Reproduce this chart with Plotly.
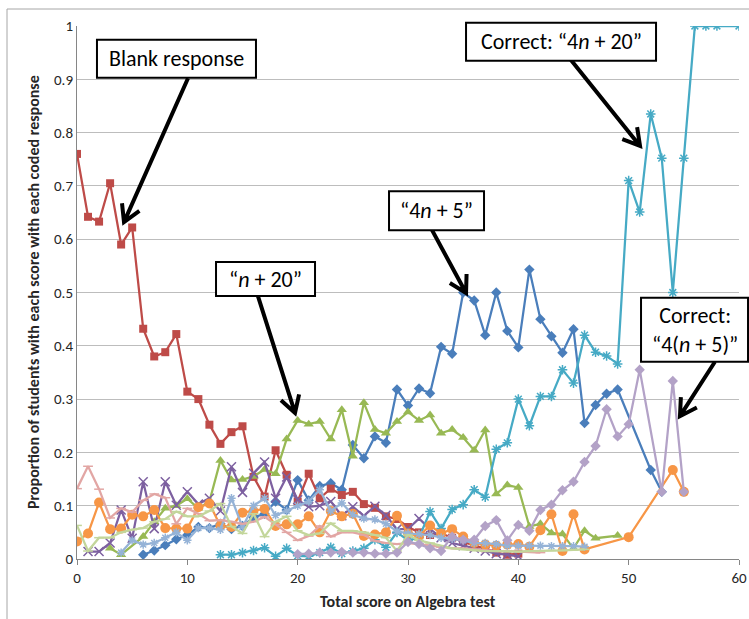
import math
import plotly.graph_objects as go

# ---------------------------------------------------------------- data
blank_x = list(range(0, 41))
blank_y = [0.76, 0.642, 0.633, 0.705, 0.59, 0.622, 0.432, 0.38, 0.388, 0.422,
           0.314, 0.30, 0.252, 0.216, 0.238, 0.249, 0.154, 0.117, 0.204, 0.158,
           0.108, 0.160, 0.114, 0.132, 0.12, 0.126, 0.103, 0.096, 0.08, 0.075,
           0.06, 0.05, 0.045, 0.048, 0.04, 0.032, 0.025, 0.02, 0.012, 0.008, 0.01]

r4n5_x = list(range(6, 50)) + [52, 53]
r4n5_y = [0.008, 0.016, 0.026, 0.037, 0.045, 0.06, 0.058, 0.066, 0.056, 0.062,
          0.078, 0.085, 0.108, 0.092, 0.148, 0.11, 0.137, 0.142, 0.13, 0.214,
          0.189, 0.23, 0.218, 0.318, 0.288, 0.32, 0.311, 0.398, 0.385, 0.50,
          0.485, 0.42, 0.50, 0.428, 0.397, 0.543, 0.45, 0.418, 0.387, 0.431,
          0.255, 0.289, 0.31, 0.318, 0.167, 0.126]

rn20_x = [3, 4] + list(range(6, 48)) + [49]
rn20_y = [0.02, 0.008, 0.042, 0.07, 0.095, 0.1, 0.113, 0.095, 0.108, 0.185,
          0.148, 0.149, 0.155, 0.168, 0.16, 0.225, 0.26, 0.253, 0.258, 0.225,
          0.28, 0.193, 0.293, 0.243, 0.236, 0.258, 0.276, 0.26, 0.27, 0.236,
          0.243, 0.228, 0.204, 0.242, 0.122, 0.139, 0.134, 0.061, 0.066, 0.049,
          0.047, 0.02, 0.053, 0.039, 0.044]

purple_x = list(range(1, 41))
purple_y = [0.014, 0.014, 0.03, 0.092, 0.039, 0.145, 0.057, 0.145, 0.101, 0.126,
            0.103, 0.114, 0.09, 0.173, 0.125, 0.161, 0.182, 0.114, 0.154, 0.111,
            0.098, 0.1, 0.108, 0.081, 0.098, 0.081, 0.099, 0.082, 0.056, 0.056,
            0.076, 0.056, 0.04, 0.03, 0.025, 0.02, 0.015, 0.01, 0.008, 0.005]

r4n20_x = list(range(13, 59)) + [60]
r4n20_y = [0.008, 0.008, 0.012, 0.016, 0.021, 0.005, 0.02, 0.006, 0.005, 0.012,
           0.022, 0.01, 0.015, 0.02, 0.036, 0.022, 0.05, 0.035, 0.04, 0.089,
           0.057, 0.093, 0.102, 0.13, 0.116, 0.206, 0.218, 0.30, 0.25, 0.305,
           0.305, 0.355, 0.33, 0.42, 0.388, 0.381, 0.366, 0.71, 0.651, 0.835,
           0.752, 0.5, 0.752, 1.0, 1.0, 1.0, 1.0]

orange_x = list(range(0, 47)) + [50, 54, 55]
orange_y = [0.033, 0.048, 0.106, 0.056, 0.057, 0.083, 0.08, 0.092, 0.058, 0.057,
            0.057, 0.097, 0.104, 0.062, 0.06, 0.087, 0.09, 0.094, 0.062, 0.065,
            0.065, 0.08, 0.05, 0.09, 0.08, 0.085, 0.043, 0.046, 0.05, 0.081,
            0.048, 0.043, 0.063, 0.048, 0.056, 0.042, 0.03, 0.027, 0.025, 0.027,
            0.028, 0.023, 0.054, 0.084, 0.015, 0.084, 0.018, 0.041, 0.167, 0.126]

ltblue_x = list(range(4, 47))
ltblue_y = [0.012, 0.035, 0.027, 0.03, 0.04, 0.05, 0.035, 0.058, 0.058, 0.055,
            0.114, 0.06, 0.1, 0.114, 0.082, 0.09, 0.1, 0.108, 0.13, 0.09,
            0.105, 0.083, 0.076, 0.074, 0.066, 0.052, 0.048, 0.047, 0.045, 0.04,
            0.038, 0.035, 0.03, 0.03, 0.028, 0.025, 0.025, 0.025, 0.025, 0.024,
            0.024, 0.024, 0.023]

pink_x = list(range(0, 43))
pink_y = [0.132, 0.174, 0.131, 0.077, 0.095, 0.088, 0.11, 0.122, 0.115, 0.066,
          0.095, 0.085, 0.072, 0.073, 0.07, 0.066, 0.07, 0.079, 0.065, 0.05,
          0.035, 0.043, 0.062, 0.042, 0.05, 0.05, 0.045, 0.034, 0.03, 0.028,
          0.03, 0.028, 0.025, 0.022, 0.02, 0.02, 0.018, 0.016, 0.015, 0.015,
          0.014, 0.013, 0.012]

ltgreen_x = list(range(0, 47))
ltgreen_y = [0.063, 0.015, 0.04, 0.04, 0.05, 0.055, 0.058, 0.07, 0.075, 0.089,
             0.08, 0.08, 0.09, 0.104, 0.061, 0.048, 0.085, 0.042, 0.07, 0.08,
             0.053, 0.045, 0.048, 0.067, 0.053, 0.053, 0.05, 0.045, 0.04, 0.015,
             0.045, 0.035, 0.03, 0.025, 0.02, 0.018, 0.016, 0.015, 0.015, 0.014,
             0.014, 0.015, 0.015, 0.016, 0.016, 0.017, 0.018]

r4n5c_x = list(range(20, 52)) + [53, 54, 55]
r4n5c_y = [0.009, 0.01, 0.012, 0.012, 0.013, 0.012, 0.012, 0.01, 0.01, 0.012,
           0.032, 0.028, 0.02, 0.015, 0.042, 0.036, 0.036, 0.062, 0.073, 0.035,
           0.064, 0.053, 0.092, 0.102, 0.129, 0.145, 0.182, 0.212, 0.281, 0.23,
           0.253, 0.355, 0.126, 0.334, 0.126]

x_ticks = [0, 10, 20, 30, 40, 50, 60]
y_ticks = [0, 0.1, 0.2, 0.3, 0.4, 0.5, 0.6, 0.7, 0.8, 0.9, 1]
y_tick_text = ["0", "0.1", "0.2", "0.3", "0.4", "0.5", "0.6", "0.7", "0.8", "0.9", "1"]

# ---------------------------------------------------------------- layout geometry
W, H = 749, 619
MARGIN = dict(l=77, r=10, t=26, b=60)
PW = W - MARGIN["l"] - MARGIN["r"]
PH = H - MARGIN["t"] - MARGIN["b"]
XR = (0, 60)
YR = (0, 1)
FONT = "Calibri, Carlito, Lato, sans-serif"
TXT = "#262626"


def to_px(x, y):
    return (MARGIN["l"] + (x - XR[0]) / (XR[1] - XR[0]) * PW,
            MARGIN["t"] + (YR[1] - y) / (YR[1] - YR[0]) * PH)


def to_data(px, py):
    return (XR[0] + (px - MARGIN["l"]) / PW * (XR[1] - XR[0]),
            YR[1] - (py - MARGIN["t"]) / PH * (YR[1] - YR[0]))


def px_to_paper(px, py):
    return (px - MARGIN["l"]) / PW, (MARGIN["t"] + PH - py) / PH


fig = go.Figure()

series = [
    (r4n5_x, r4n5_y, "#4A7EBB", "diamond", 8, "“4n + 5”"),
    (blank_x, blank_y, "#BE4B48", "square", 8, "Blank"),
    (rn20_x, rn20_y, "#98B954", "triangle-up", 9, "“n + 20”"),
    (purple_x, purple_y, "#7D60A0", "x-thin-open", 9, "other 1"),
    (r4n20_x, r4n20_y, "#46AAC5", "asterisk-open", 8, "“4n + 20”"),
    (orange_x, orange_y, "#F79646", "circle", 10, "other 2"),
    (ltblue_x, ltblue_y, "#95B3D7", "asterisk-open", 7, "other 3"),
    (pink_x, pink_y, "#E2A6A4", "line-ew-open", 7, "other 4"),
    (ltgreen_x, ltgreen_y, "#C3D69B", "line-ew-open", 7, "other 5"),
    (r4n5c_x, r4n5c_y, "#B3A2C7", "diamond", 8, "“4(n + 5)”"),
]

for xs, ys, col, sym, size, name in series:
    open_marker = sym.endswith("open")
    fig.add_trace(go.Scatter(
        x=xs, y=ys, mode="lines+markers", name=name,
        line=dict(color=col, width=2.25),
        marker=dict(symbol=sym, size=size, color=col,
                    line=dict(color=col, width=1.5 if open_marker else 0)),
        showlegend=False,
    ))

shapes = []
annotations = []

# outer chart frame
fx0, fy0 = px_to_paper(7, 9)
fx1, fy1 = px_to_paper(W + 5, H + 5)
shapes.append(dict(type="rect", xref="paper", yref="paper",
                   x0=fx0, x1=fx1, y0=fy1, y1=fy0,
                   line=dict(color="#A6A6A6", width=1), layer="below"))

# arrows: (tail, tip) in data units
arrows = [
    ((10.06, 0.902), (4.26, 0.632)),
    ((16.40, 0.493), (19.76, 0.274)),
    ((32.18, 0.617), (35.26, 0.499)),
    ((44.77, 0.936), (51.03, 0.775)),
    ((57.82, 0.370), (54.65, 0.268)),
]
HEAD_LEN, HEAD_ANG = 19, math.radians(30)
for (tx, ty), (hx, hy) in arrows:
    tpx, tpy = to_px(tx, ty)
    hpx, hpy = to_px(hx, hy)
    ang = math.atan2(tpy - hpy, tpx - hpx)
    wings = []
    for s in (-1, 1):
        a = ang + s * HEAD_ANG
        wings.append(to_data(hpx + HEAD_LEN * math.cos(a), hpy + HEAD_LEN * math.sin(a)))
    path = (f"M{tx},{ty} L{hx},{hy} "
            f"M{wings[0][0]},{wings[0][1]} L{hx},{hy} L{wings[1][0]},{wings[1][1]}")
    shapes.append(dict(type="path", xref="x", yref="y", path=path,
                       line=dict(color="black", width=4), layer="above"))

# labelled callout boxes: left, top (data units), width, height (px), text
boxes = [
    (1.81, 0.974, 159, 38, "Blank response"),
    (12.60, 0.557, 99, 34, "“<i>n</i> + 20”"),
    (28.28, 0.690, 95, 39, "“4<i>n</i> + 5”"),
    (35.26, 1.006, 190, 38, "Correct: “4<i>n</i> + 20”"),
    (51.12, 0.490, 107, 64, "Correct:<br>“4(<i>n</i> + 5)”"),
]
for bx, by, bw, bh, text in boxes:
    lpx, tpy = to_px(bx, by)
    x0, y0 = px_to_paper(lpx, tpy)
    x1, y1 = px_to_paper(lpx + bw, tpy + bh)
    shapes.append(dict(type="rect", xref="paper", yref="paper",
                       x0=x0, x1=x1, y0=y1, y1=y0,
                       line=dict(color="black", width=2), fillcolor="white",
                       layer="above"))
    cx, cy = px_to_paper(lpx + bw / 2, tpy + bh / 2)
    annotations.append(dict(x=cx, y=cy, xref="paper", yref="paper", text=text,
                            showarrow=False, xanchor="center", yanchor="middle",
                            font=dict(family=FONT, size=22, color="black")))

# axis titles
tx, ty = px_to_paper(408, 601)
annotations.append(dict(x=tx, y=ty, xref="paper", yref="paper",
                        text="<b>Total score on Algebra test</b>", showarrow=False,
                        xanchor="center", yanchor="middle",
                        font=dict(family=FONT, size=16, color=TXT)))
tx, ty = px_to_paper(33, 292)
annotations.append(dict(x=tx, y=ty, xref="paper", yref="paper",
                        text="<b>Proportion of students with each score with each coded response</b>",
                        showarrow=False, textangle=-90,
                        xanchor="center", yanchor="middle",
                        font=dict(family=FONT, size=16, color=TXT)))

fig.update_layout(
    width=W, height=H,
    margin=MARGIN,
    paper_bgcolor="white", plot_bgcolor="white",
    font=dict(family=FONT, color=TXT),
    shapes=shapes,
    annotations=annotations,
    xaxis=dict(
        range=list(XR), tickvals=x_ticks, ticks="outside", ticklen=5,
        tickcolor="#868686", showline=True, linecolor="#868686", linewidth=1,
        showgrid=False, zeroline=False, automargin=False,
        tickfont=dict(family=FONT, size=15, color=TXT),
    ),
    yaxis=dict(
        range=list(YR), tickvals=y_ticks, ticktext=y_tick_text, ticks="",
        showline=True, linecolor="#868686", linewidth=1,
        showgrid=True, gridcolor="#BDBDBD", gridwidth=1, zeroline=False,
        automargin=False,
        tickfont=dict(family=FONT, size=15, color=TXT),
    ),
)

fig.write_html("out.html")
